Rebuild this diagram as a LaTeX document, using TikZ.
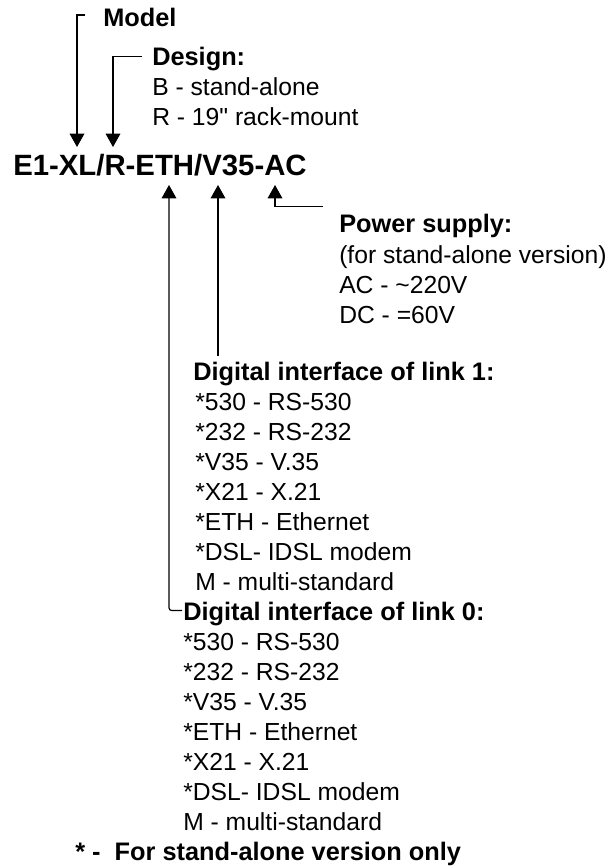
\documentclass[tikz,border=0pt]{standalone}
\usepackage{fontspec}
\setmainfont{Liberation Sans}
\newfontfamily\rawfont{Liberation Sans}[Ligatures=TeXOff]
\usetikzlibrary{arrows.meta,calc}
\tikzset{
  lbl/.style={inner sep=0pt, anchor=base west, font=\fontsize{18.5}{22}\selectfont},
  ttl/.style={inner sep=0pt, anchor=base west, font=\fontsize{19}{22}\selectfont\bfseries},
  code/.style={inner sep=0pt, anchor=base west, font=\fontsize{22}{26}\selectfont\bfseries},
  arr/.style={draw, line width=0.9pt, -{Triangle[width=11pt,length=10pt]}},
}
\begin{document}
\begin{tikzpicture}[x=0.75pt,y=-0.75pt]
\useasboundingbox (0,0) rectangle (615,866);
% labels
\node[ttl] (model) at (103,27) {Model};
\node[ttl] (design) at (152,66) {Design:};
\node[lbl] (dB) at (152,96) {B - stand-alone};
\node[lbl] (dR) at (152,126) {R - 19{\rawfont"} rack-mount};
\node[code] (code) at (13,176) {E1-XL/R-ETH/V35-AC};
\node[ttl] (power) at (339,233) {Power supply:};
\node[lbl] (p1) at (339,263) {(for stand-alone version)};
\node[lbl] (p2) at (339,293) {AC - \textasciitilde 220V};
\node[lbl] (p3) at (339,323) {DC - =60V};
\node[ttl] (link1) at (193,380) {Digital interface of link 1:};
\foreach \t [count=\i] in {{*530 - RS-530},{*232 - RS-232},{*V35 - V.35},{*X21 - X.21},{*ETH - Ethernet},{*DSL- IDSL modem},{M - multi-standard}}
  \node[lbl] (la\i) at (195,{380+30*\i}) {\t};
\node[ttl] (link0) at (183,620) {Digital interface of link 0:};
\foreach \t [count=\i] in {{*530 - RS-530},{*232 - RS-232},{*V35 - V.35},{*ETH - Ethernet},{*X21 - X.21},{*DSL- IDSL modem},{M - multi-standard}}
  \node[lbl] (lb\i) at (183,{620+30*\i}) {\t};
\node[ttl] (note) at (75,860) {* -\ \ For stand-alone version only};
% arrow tips at the code
\coordinate (tM) at (77,147);
\coordinate (tD) at (113,147);
\coordinate (tE) at (169,185);
\coordinate (tV) at (218,185);
\coordinate (tA) at (275,185);
% connectors
\draw[arr] ($(model.west)+(-18,-3)$) -| (tM);
\draw[arr] ($(design.west)+(-10,-3)$) -| (tD);
\draw[arr] ($(power.north west)+(-16,-8)$) -| (tA);
\draw[arr] ($(tV |- link1.north)+(0,-5)$) -- (tV);
\draw[arr, rounded corners=2pt] ($(link0.west)+(-1,-3)$) -| (tE);
\end{tikzpicture}
\end{document}
